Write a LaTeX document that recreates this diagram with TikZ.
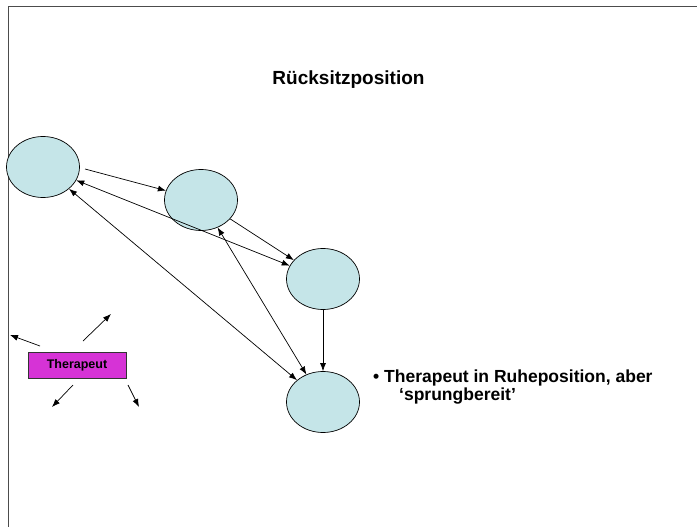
\documentclass[tikz,border=0pt]{standalone}
\usepackage{fontspec}
\setmainfont{Liberation Sans}
\usetikzlibrary{arrows.meta,shapes.geometric}
\definecolor{cellfill}{HTML}{C5E5E8}
\definecolor{therafill}{HTML}{D633D6}
\begin{document}
\begin{tikzpicture}[x=1pt,y=-1pt,
  cell/.style={ellipse,draw=black,fill=cellfill,line width=0.7pt,minimum width=73pt,minimum height=61pt,inner sep=0pt},
  conn/.style={line width=0.7pt,-{Latex[length=8pt,width=6pt]}},
  conn2/.style={line width=0.7pt,{Latex[length=8pt,width=6pt]}-{Latex[length=8pt,width=6pt]}},
  every node/.style={font=\bfseries}]
\useasboundingbox (0,0) rectangle (697,527);
\draw[line width=1pt,black!70] (8,527) -- (8,7) -- (697,7);
\node[font=\bfseries\fontsize{19}{22}\selectfont] (title) at (348.5,80) {Rücksitzposition};
\node[cell] (A) at (43,167) {};
\node[cell] (B) at (201,200) {};
\node[cell] (C) at (323,279) {};
\node[cell] (D) at (323,402) {};
\coordinate (a1) at (85,169);
\draw[conn] (a1) -- (B);
\draw[conn] (B) -- (C);
\draw[conn2] (A) -- (C);
\draw[conn2] (A) -- (D);
\draw[conn2] (B) -- (D);
\draw[conn] (C.south) -- (D.north);
\node[draw=black!80,fill=therafill,line width=0.8pt,minimum width=98pt,minimum height=26pt,inner sep=0pt,font=\bfseries\fontsize{12.5}{14}\selectfont] (T) at (77,365) {Therapeut};
\coordinate (t1s) at (40,346); \coordinate (t1e) at (10,335);
\coordinate (t2s) at (83,341); \coordinate (t2e) at (111,314);
\coordinate (t3s) at (73,385); \coordinate (t3e) at (52,407);
\coordinate (t4s) at (128,385); \coordinate (t4e) at (139,407);
\draw[conn] (t1s) -- (t1e);
\draw[conn] (t2s) -- (t2e);
\draw[conn] (t3s) -- (t3e);
\draw[conn] (t4s) -- (t4e);
\node[anchor=base west,inner sep=0pt,font=\bfseries\fontsize{17.5}{19}\selectfont] (txt1) at (373,382) {• Therapeut in Ruheposition, aber};
\node[anchor=base west,inner sep=0pt,font=\bfseries\fontsize{17.5}{19}\selectfont] (txt2) at (399,400) {‘sprungbereit’};
\end{tikzpicture}
\end{document}
